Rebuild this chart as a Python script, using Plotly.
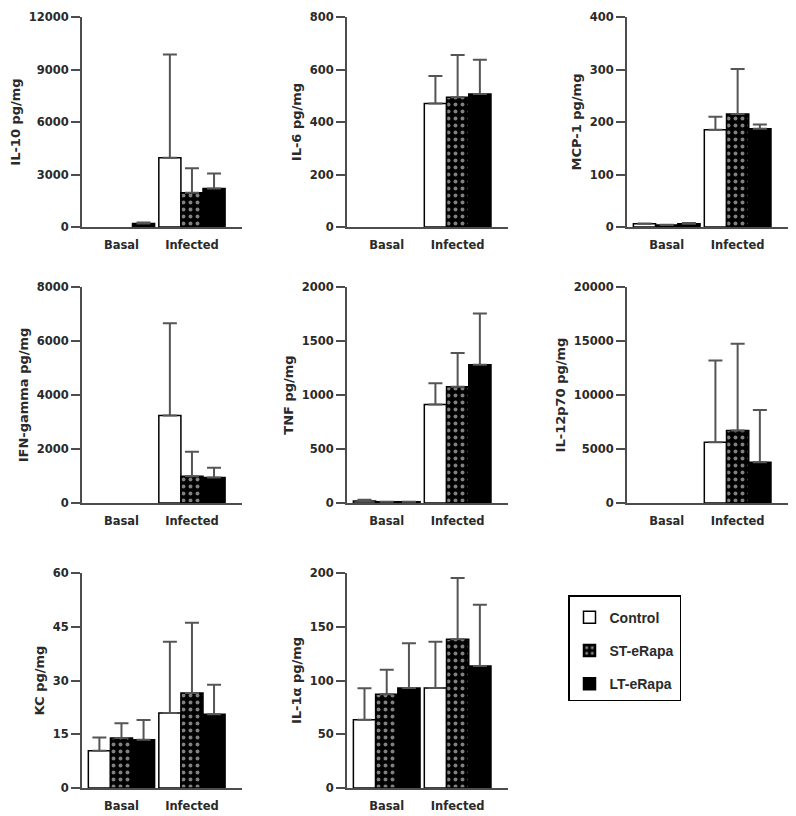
import plotly.graph_objects as go

# ---------------- data ----------------
GROUPS = ["Basal", "Infected"]
SERIES = ["Control", "ST-eRapa", "LT-eRapa"]

TITLES = ["IL-10 pg/mg", "IL-6 pg/mg", "MCP-1 pg/mg",
          "IFN-gamma pg/mg", "TNF pg/mg", "IL-12p70 pg/mg",
          "KC pg/mg", "IL-1α pg/mg"]

# means: rows = Control, ST-eRapa, LT-eRapa ; cols = Basal, Infected
# None = no visible bar
IL10_MEAN = [[None, 3960], [None, 1950], [200, 2200]]
IL10_SD = [[0, 5900], [0, 1400], [50, 850]]
IL6_MEAN = [[None, 470], [None, 494], [None, 507]]
IL6_SD = [[0, 105], [0, 161], [0, 130]]
MCP1_MEAN = [[6, 185], [4, 215], [6, 187]]
MCP1_SD = [[0.5, 25], [0.5, 86], [1.5, 8]]
IFNG_MEAN = [[None, 3245], [None, 990], [None, 940]]
IFNG_SD = [[0, 3415], [0, 905], [0, 370]]
TNF_MEAN = [[18, 913], [12, 1077], [12, 1279]]
TNF_SD = [[12, 195], [0, 313], [0, 476]]
IL12_MEAN = [[None, 5635], [None, 6720], [None, 3780]]
IL12_SD = [[0, 7555], [0, 8020], [0, 4830]]
KC_MEAN = [[10.4, 20.9], [13.95, 26.5], [13.5, 20.6]]
KC_SD = [[3.7, 19.9], [4.15, 19.6], [5.5, 8.2]]
IL1A_MEAN = [[63.6, 93], [87.1, 138.3], [93, 113.5]]
IL1A_SD = [[29.1, 43], [22.9, 57], [41.6, 57]]

Y_MAX = [12000, 800, 400, 8000, 2000, 20000, 60, 200]
Y_STEP = [3000, 200, 100, 2000, 500, 5000, 15, 50]

MEANS = [IL10_MEAN, IL6_MEAN, MCP1_MEAN, IFNG_MEAN, TNF_MEAN, IL12_MEAN, KC_MEAN, IL1A_MEAN]
SDS = [IL10_SD, IL6_SD, MCP1_SD, IFNG_SD, TNF_SD, IL12_SD, KC_SD, IL1A_SD]

# ---------------- layout helpers ----------------
W, H = 796, 816
OFF = 8  # page body margin
COLS_PX = [(82 - OFF, 242 - OFF), (347 - OFF, 508 - OFF), (627 - OFF, 788 - OFF)]
ROWS_PX = [(17 - OFF, 227 - OFF), (287 - OFF, 503 - OFF), (573 - OFF, 788 - OFF)]

AXIS_COLOR = "#4d4d4d"
TEXT_COLOR = "#2a2a2a"
FONT = "DejaVu Sans"

fig = go.Figure()

styles = [
    dict(color="white", line=dict(color="black", width=1.5)),
    dict(color="black", line=dict(color="black", width=1.5),
         pattern=dict(shape=".", fgcolor="white", bgcolor="black", size=7, solidity=0.25)),
    dict(color="black", line=dict(color="black", width=1.5)),
]

layout_axes = {}
for p in range(8):
    r, c = divmod(p, 3)
    idx = "" if p == 0 else str(p + 1)
    xa, ya = "x" + idx, "y" + idx
    for s in range(3):
        errs = [e if m is not None else None for m, e in zip(MEANS[p][s], SDS[p][s])]
        fig.add_trace(go.Bar(
            x=[0, 1], y=MEANS[p][s], name=SERIES[s],
            xaxis=xa, yaxis=ya,
            offsetgroup=str(s), legendgroup=SERIES[s],
            showlegend=(p == 0),
            marker=styles[s],
            error_y=dict(type="data", symmetric=False, array=errs,
                         arrayminus=[0, 0], color="#555555", thickness=2, width=7),
        ))
    x0, x1 = COLS_PX[c]
    y0, y1 = ROWS_PX[r]
    layout_axes["xaxis" + idx] = dict(
        domain=[x0 / W, x1 / W], anchor=ya, range=[-0.56, 1.71],
        tickvals=[0, 1], ticktext=GROUPS, showline=True, linecolor=AXIS_COLOR,
        linewidth=2, ticks="outside", ticklen=6, tickcolor="rgba(0,0,0,0)",
        showgrid=False, zeroline=False, automargin=False,
        tickfont=dict(family=FONT, size=11.5, color=TEXT_COLOR, weight="bold"),
    )
    layout_axes["yaxis" + idx] = dict(
        domain=[1 - y1 / H, 1 - y0 / H], anchor=xa, range=[0, Y_MAX[p]],
        tick0=0, dtick=Y_STEP[p], tickformat="d",
        showline=True, linecolor=AXIS_COLOR, linewidth=2,
        ticks="outside", ticklen=9, tickwidth=1.5, tickcolor=AXIS_COLOR,
        showgrid=False, zeroline=False, automargin=False,
        ticklabeloverflow="allow",
        tickfont=dict(family=FONT, size=11.5, color=TEXT_COLOR, weight="bold"),
        title=dict(text=TITLES[p], font=dict(family=FONT, size=13, color=TEXT_COLOR, weight="bold"),
                   standoff=5),
    )

fig.update_layout(
    width=W, height=H,
    margin=dict(l=0, r=0, t=0, b=0, autoexpand=False),
    paper_bgcolor="white", plot_bgcolor="white",
    barmode="group", bargap=0.06, bargroupgap=0,
    showlegend=True,
    legend=dict(
        x=(568 - OFF) / W, y=1 - (595 - OFF) / H, xanchor="left", yanchor="top",
        bordercolor="black", borderwidth=1.5, bgcolor="white",
        font=dict(family="Liberation Sans", size=14, color=TEXT_COLOR, weight="bold"),
        traceorder="grouped", tracegroupgap=12,
        title=dict(text=" ", font=dict(size=4)),
    ),
    **layout_axes,
)

fig.write_html("out.html")
